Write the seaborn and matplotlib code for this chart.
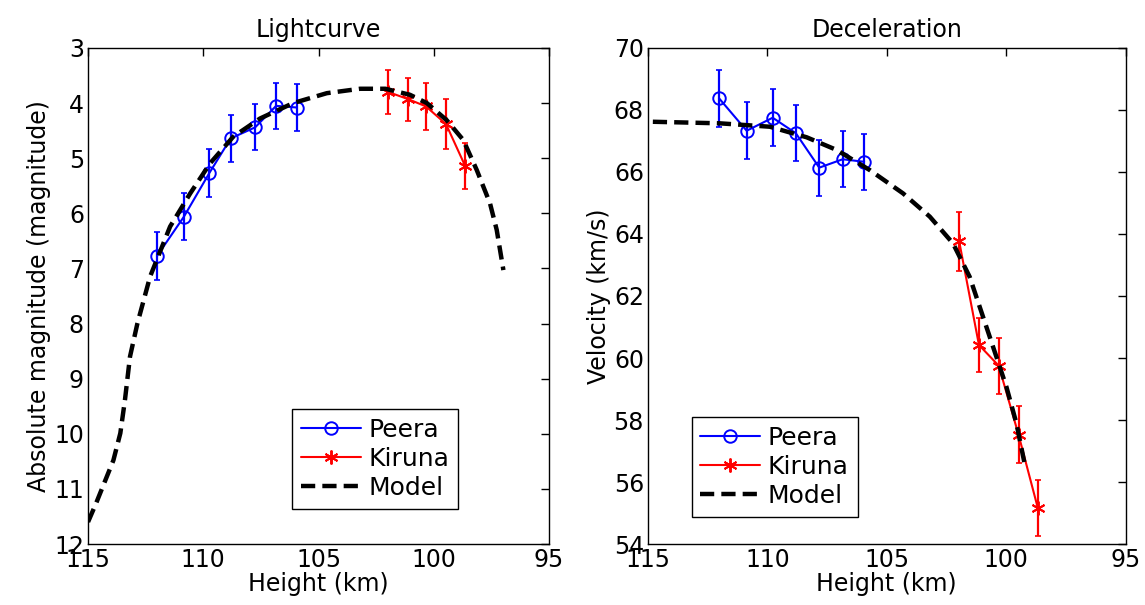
import numpy as np
import pandas as pd
import matplotlib
matplotlib.use("Agg")
import matplotlib.pyplot as plt
import seaborn as sns

# ---- data ----
peera_h_lc = [112.0, 110.84, 109.74, 108.81, 107.75, 106.84, 105.95]
peera_mag = [6.77, 6.06, 5.27, 4.64, 4.44, 4.05, 4.08]
peera_mag_err = [0.44, 0.42, 0.43, 0.42, 0.42, 0.42, 0.42]

kiruna_h_lc = [101.97, 101.1, 100.34, 99.47, 98.64]
kiruna_mag = [3.80, 3.93, 4.06, 4.38, 5.14]
kiruna_mag_err = [0.40, 0.39, 0.42, 0.46, 0.41]

model_h_lc = [115.0, 114.65, 113.9, 113.6, 113.4, 113.18, 112.86, 112.31, 111.44,
              110.57, 109.7, 108.7, 107.54, 106.1, 104.64, 103.2, 102.1, 101.03,
              100.3, 99.44, 98.72, 98.14, 97.56, 97.27, 96.98]
model_mag = [11.6, 11.26, 10.48, 9.99, 9.39, 8.6, 8.0, 7.15, 6.24, 5.64, 5.09,
             4.61, 4.28, 4.0, 3.82, 3.74, 3.74, 3.85, 4.0, 4.31, 4.67, 5.21,
             5.82, 6.3, 7.03]

peera_h_v = [112.03, 110.87, 109.78, 108.81, 107.83, 106.85, 105.95]
peera_vel = [68.38, 67.33, 67.75, 67.25, 66.14, 66.41, 66.33]
peera_vel_err = [0.92, 0.92, 0.92, 0.90, 0.90, 0.91, 0.91]

kiruna_h_v = [101.97, 101.14, 100.31, 99.48, 98.67]
kiruna_vel = [63.77, 60.42, 59.75, 57.52, 55.15]
kiruna_vel_err = [0.95, 0.88, 0.90, 0.92, 0.90]

model_h_v = [114.8, 112.0, 109.9, 108.36, 107.1, 105.71, 104.32, 103.2, 102.23,
             101.53, 100.97, 100.41, 99.99, 99.57, 99.23]
model_vel = [67.62, 67.57, 67.46, 67.12, 66.71, 66.06, 65.31, 64.56, 63.7,
             62.62, 61.33, 60.04, 59.07, 57.89, 56.6]

xticks = [115, 110, 105, 100, 95]

# ---- style ----
sns.set_style("white")
plt.rcParams['font.family'] = ['DejaVu Sans']
plt.rcParams['font.size'] = 17
plt.rcParams['text.color'] = 'black'
plt.rcParams['axes.labelcolor'] = 'black'
plt.rcParams['xtick.color'] = 'black'
plt.rcParams['ytick.color'] = 'black'
plt.rcParams['axes.edgecolor'] = 'black'

fig = plt.figure(figsize=(11.45, 6.05), dpi=100)
ax1 = fig.add_axes([0.0769, 0.1008, 0.4026, 0.8199])
ax2 = fig.add_axes([0.566, 0.1008, 0.417, 0.8199])

BLUE = (0, 0, 1)
RED = (1, 0, 0)
dash = (0, (3.2, 1.6))


def draw(ax, ph, py, pe, kh, ky, ke, mh, my):
    ax.errorbar(ph, py, yerr=pe, fmt='none', ecolor=BLUE, elinewidth=1.6,
                capsize=2, capthick=1.2)
    sns.lineplot(x=ph, y=py, ax=ax, sort=False, estimator=None, color=BLUE,
                 lw=1.5, marker='o', ms=9, mfc='none', mec=BLUE, mew=1.4,
                 label='Peera')
    ax.errorbar(kh, ky, yerr=ke, fmt='none', ecolor=RED, elinewidth=1.6,
                capsize=2, capthick=1.2)
    sns.lineplot(x=kh, y=ky, ax=ax, sort=False, estimator=None, color=RED,
                 lw=1.5, marker=(6, 2, 0), ms=10, mec=RED, mew=1.4,
                 label='Kiruna')
    sns.lineplot(x=mh, y=my, ax=ax, sort=False, estimator=None, color='black',
                 lw=3.2, linestyle=dash, label='Model')
    ax.set_xlim(115, 95)
    ax.set_xticks(xticks)
    ax.set_xlabel('Height (km)', fontsize=17, labelpad=0)
    ax.tick_params(direction='in', top=True, right=True, length=6, width=1,
                   labelsize=17, pad=3, colors='black')
    for s in ax.spines.values():
        s.set_linewidth(1.0)
        s.set_color('black')


draw(ax1, peera_h_lc, peera_mag, peera_mag_err, kiruna_h_lc, kiruna_mag,
     kiruna_mag_err, model_h_lc, model_mag)
ax1.set_ylim(12, 3)
ax1.set_yticks(range(3, 13))
ax1.set_ylabel('Absolute magnitude (magnitude)', fontsize=17, labelpad=2)
ax1.set_title('Lightcurve', fontsize=17, pad=8)

draw(ax2, peera_h_v, peera_vel, peera_vel_err, kiruna_h_v, kiruna_vel,
     kiruna_vel_err, model_h_v, model_vel)
ax2.set_ylim(54, 70)
ax2.set_yticks(range(54, 71, 2))
ax2.set_ylabel('Velocity (km/s)', fontsize=17, labelpad=2)
ax2.set_title('Deceleration', fontsize=17, pad=8)

for ax, anchor in [(ax1, (0.4425, 0.0706)), (ax2, (0.0914, 0.055))]:
    leg = ax.legend(loc='lower left', bbox_to_anchor=anchor, borderaxespad=0,
                    fontsize=18, frameon=True, fancybox=False, framealpha=1,
                    edgecolor='black', handlelength=2.4, handletextpad=0.3,
                    labelspacing=0.2, borderpad=0.35)
    leg.get_frame().set_linewidth(1.0)
    for t in leg.get_texts():
        t.set_color('black')

fig.savefig('out.png', dpi=100)
